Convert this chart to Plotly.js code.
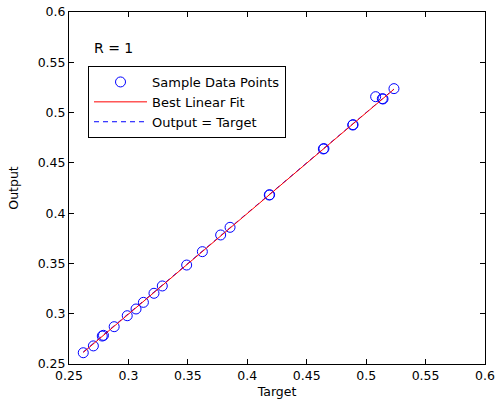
<!DOCTYPE html>
<html>
<head>
<meta charset="utf-8">
<script src="https://cdn.plot.ly/plotly-3.0.1.min.js"></script>
<style>html,body{margin:0;padding:0;background:#fff;}#chart{width:495px;height:402px;}</style>
</head>
<body>
<div id="chart"></div>
<script>
// Sample data points (target, output)
var targets = [0.262, 0.2705, 0.278, 0.279, 0.288, 0.299, 0.3064, 0.3126, 0.3215, 0.3285, 0.349, 0.3622, 0.3776, 0.3855, 0.4185, 0.4188, 0.464, 0.4645, 0.4887, 0.489, 0.508, 0.5136, 0.5142, 0.5234];
var outputs = [0.2612, 0.268, 0.2778, 0.2785, 0.2871, 0.298, 0.3047, 0.3113, 0.3203, 0.3276, 0.3484, 0.3617, 0.3783, 0.3859, 0.418, 0.4183, 0.4638, 0.4642, 0.4876, 0.488, 0.5158, 0.5138, 0.5135, 0.5238];
// Best linear fit endpoints
var fitX = [0.262, 0.5234];
var fitY = [0.2615, 0.5232];
// Output = Target line endpoints
var idX = [0.262, 0.5234];
var idY = [0.262, 0.5234];
var xTicks = [0.25, 0.3, 0.35, 0.4, 0.45, 0.5, 0.55, 0.6];
var xTickText = ['0.25', '0.3', '0.35', '0.4', '0.45', '0.5', '0.55', '0.6'];
var yTicks = [0.25, 0.3, 0.35, 0.4, 0.45, 0.5, 0.55, 0.6];
var yTickText = ['0.25', '0.3', '0.35', '0.4', '0.45', '0.5', '0.55', '0.6'];

var FONT = 'DejaVu Sans, Liberation Sans, Arial, sans-serif';

var traces = [
  {x: idX, y: idY, type: 'scatter', mode: 'lines', name: 'Output = Target',
   line: {color: '#0000ff', width: 1, dash: '5px,4px'}, legendrank: 3},
  {x: targets, y: outputs, type: 'scatter', mode: 'markers', name: 'Sample Data Points',
   marker: {symbol: 'circle-open', size: 10, color: '#0000ff', line: {width: 1, color: '#0000ff'}}, legendrank: 1},
  {x: fitX, y: fitY, type: 'scatter', mode: 'lines', name: 'Best Linear Fit',
   line: {color: '#ff0000', width: 1}, legendrank: 2}
];

var axisCommon = {
  showgrid: false, zeroline: false, showline: true, linecolor: '#000', linewidth: 1,
  mirror: 'ticks', ticks: 'inside', ticklen: 5, tickcolor: '#000', tickwidth: 1,
  tickfont: {family: FONT, size: 12.5, color: '#000'}
};

var layout = {
  width: 495, height: 402,
  margin: {l: 69, r: 10, t: 12, b: 38},
  paper_bgcolor: '#fff', plot_bgcolor: '#fff',
  showlegend: true,
  legend: {x: 0.0457, y: 0.8466, xanchor: 'left', yanchor: 'top',
           bordercolor: '#000', borderwidth: 1, bgcolor: '#fff',
           font: {family: FONT, size: 13, color: '#000'}, itemwidth: 53, tracegroupgap: 0},
  xaxis: Object.assign({}, axisCommon, {range: [0.25, 0.6], tickvals: xTicks, ticktext: xTickText,
    title: {text: 'Target', font: {family: FONT, size: 12.5, color: '#000'}, standoff: 5}}),
  yaxis: Object.assign({}, axisCommon, {range: [0.25, 0.6], tickvals: yTicks, ticktext: yTickText,
    title: {text: 'Output', font: {family: FONT, size: 12.5, color: '#000'}, standoff: 16}}),
  annotations: [{xref: 'paper', yref: 'paper', x: 0.0546, y: 0.8986, xanchor: 'left', yanchor: 'middle',
    text: 'R = 1', showarrow: false, font: {family: FONT, size: 14, color: '#000'}}]
};

Plotly.newPlot('chart', traces, layout, {displayModeBar: false, staticPlot: true});
</script>
</body>
</html>
